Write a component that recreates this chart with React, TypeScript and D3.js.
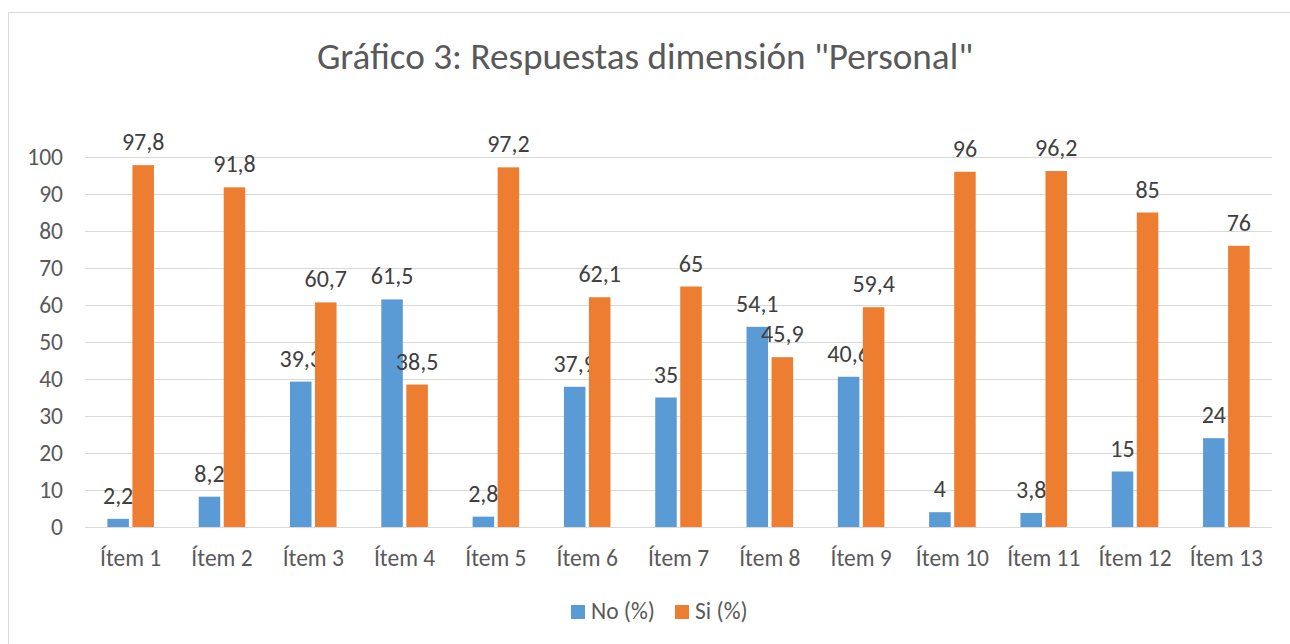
import React from 'react';
import * as d3 from 'd3';

const categories = ['Ítem 1', 'Ítem 2', 'Ítem 3', 'Ítem 4', 'Ítem 5', 'Ítem 6', 'Ítem 7', 'Ítem 8', 'Ítem 9', 'Ítem 10', 'Ítem 11', 'Ítem 12', 'Ítem 13'];
const noValues = [2.2, 8.2, 39.3, 61.5, 2.8, 37.9, 35, 54.1, 40.6, 4, 3.8, 15, 24];
const siValues = [97.8, 91.8, 60.7, 38.5, 97.2, 62.1, 65, 45.9, 59.4, 96, 96.2, 85, 76];
const seriesNames = ['No (%)', 'Si (%)'];
const seriesColors = ['#5b9bd5', '#ed7d31'];
const yTicks = [0, 10, 20, 30, 40, 50, 60, 70, 80, 90, 100];

const W = 1290;
const H = 644;
const font = 'Carlito, Calibri, Lato, "Open Sans", sans-serif';
const textColor = '#595959';

export default function App() {
  const left = 85, right = 1272, top = 157, bottom = 527;
  const x0 = d3.scaleBand().domain(categories).range([left, right]);
  const y = d3.scaleLinear().domain([0, 100]).range([bottom, top]);
  const groupW = x0.bandwidth() * 0.51;
  const x1 = d3.scaleBand().domain(seriesNames).range([0, groupW]).paddingInner(0.14);
  const fmt = (v: number) => String(v).replace('.', ',');
  const series = [noValues, siValues];

  return (
    <svg width={W} height={H} style={{ position: 'absolute', left: 0, top: 0, background: '#fff' }} fontFamily={font}>
      <rect x={8.5} y={12.5} width={W + 10} height={H} fill="#fff" stroke="#d9d9d9" strokeWidth={1} />
      <text x={645} y={69} textAnchor="middle" fontSize={37.2} fill={textColor}>Gráfico 3: Respuestas dimensión "Personal"</text>
      {yTicks.map(t => (
        <g key={t}>
          <line x1={left} x2={right} y1={Math.round(y(t)) + 0.5} y2={Math.round(y(t)) + 0.5} stroke="#d9d9d9" strokeWidth={1} />
          <text x={63} y={y(t) + 8} textAnchor="end" fontSize={23.5} fill={textColor}>{t}</text>
        </g>
      ))}
      {categories.map((c, i) => {
        const gx = (x0(c) as number) + (x0.bandwidth() - groupW) / 2;
        return (
          <g key={c}>
            {series.map((vals, s) => {
              const bx = gx + (x1(seriesNames[s]) as number);
              const v = vals[i];
              return (
                <g key={s}>
                  <rect x={bx} y={y(v)} width={x1.bandwidth()} height={y(0) - y(v)} fill={seriesColors[s]} />
                  <text x={bx + x1.bandwidth() / 2} y={y(v) - 15} textAnchor="middle" fontSize={24} fill="#404040">{fmt(v)}</text>
                </g>
              );
            })}
            <text x={(x0(c) as number) + x0.bandwidth() / 2} y={566} textAnchor="middle" fontSize={23.5} fill={textColor}>{c}</text>
          </g>
        );
      })}
      {seriesNames.map((n, s) => {
        const lx = s === 0 ? 571 : 675;
        return (
          <g key={n}>
            <rect x={lx} y={605} width={14} height={14} fill={seriesColors[s]} />
            <text x={lx + 20} y={619} fontSize={23.5} fill={textColor}>{n}</text>
          </g>
        );
      })}
    </svg>
  );
}
